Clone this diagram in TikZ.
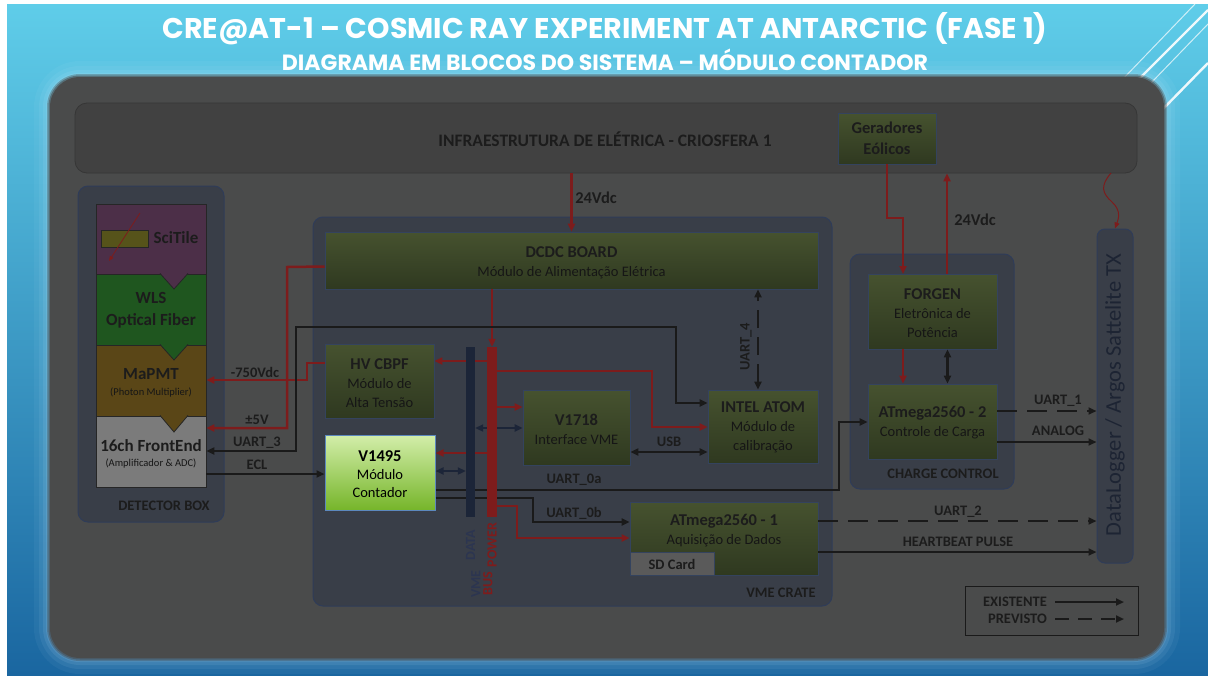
\documentclass[tikz,border=0pt]{standalone}
\usepackage{fontspec}
\setmainfont{Carlito}
\newfontfamily\titlefont{Poppins}
\usetikzlibrary{arrows.meta,fit}

\definecolor{bgtop}{HTML}{5FCDE9}
\definecolor{bgmid}{HTML}{3AA3D2}
\definecolor{bgbot}{HTML}{1A66A0}
\definecolor{glow}{HTML}{CFEFFF}
\definecolor{panel}{HTML}{4A4B4B}
\definecolor{infrafill}{HTML}{414141}
\definecolor{infrabord}{HTML}{363636}
\definecolor{cfill}{HTML}{393E48}
\definecolor{cbord}{HTML}{2F3C58}
\definecolor{gtop}{HTML}{46522F}
\definecolor{gbot}{HTML}{2F3920}
\definecolor{gbord}{HTML}{34435E}
\definecolor{brtop}{HTML}{D3EEAA}
\definecolor{brbot}{HTML}{76B52A}
\definecolor{brbord}{HTML}{5C88BE}
\definecolor{pwrred}{HTML}{7D1C1C}
\definecolor{sigblk}{HTML}{1A1A1A}
\definecolor{navy}{HTML}{1C2538}
\definecolor{txt}{HTML}{1C1C1C}
\definecolor{subtxt}{HTML}{161616}
\definecolor{scicol}{HTML}{4C2F48}
\definecolor{wlscol}{HTML}{1F561F}
\definecolor{pmtcol}{HTML}{5A4617}
\definecolor{fecol}{HTML}{7B7B7B}
\definecolor{tilecol}{HTML}{56531A}
\definecolor{secbord}{HTML}{262626}
\definecolor{sdcol}{HTML}{5A5A5A}
\definecolor{dltxt}{HTML}{1D2433}
\definecolor{vmetxt}{HTML}{2C3550}

\newcommand\boxtitle[1]{{\fontsize{16.5}{19}\selectfont\bfseries #1}}
\newcommand\boxline[1]{{\color{subtxt}\fontsize{14.5}{19}\selectfont #1}}

\tikzset{
  container/.style={draw=cbord, fill=cfill, line width=1pt, rounded corners=10pt, inner sep=0pt},
  infrabar/.style={draw=infrabord, fill=infrafill, line width=0.8pt, rounded corners=12pt, inner sep=0pt},
  gbox/.style={draw=gbord, line width=0.8pt, top color=gtop, bottom color=gbot, inner sep=0pt},
  brbox/.style={draw=brbord, line width=1pt, top color=brtop, bottom color=brbot, inner sep=0pt},
  boxtext/.style={align=center, text=txt, font=\fontsize{14.5}{19}\selectfont, inner sep=0pt},
  sect/.style={draw=secbord, line width=0.8pt, inner sep=0pt},
  lbl/.style={font=\fontsize{14.5}{17}\selectfont\bfseries, text=txt, inner sep=0pt},
  tip/.style={-{Triangle[length=8pt,width=7pt]}},
  tips/.style={{Triangle[length=8pt,width=7pt]}-{Triangle[length=8pt,width=7pt]}},
  pwr/.style={draw=pwrred, line width=2.5pt},
  sig/.style={draw=sigblk, line width=2.2pt},
  bus/.style={draw=navy, line width=2.2pt},
  planned/.style={draw=sigblk, line width=2.2pt, dash pattern=on 20pt off 10pt},
}

\begin{document}
\begin{tikzpicture}[x=1pt,y=-1pt]
\useasboundingbox (0,0) rectangle (1208,675);

% backdrop
\fill[white] (0,0) rectangle (1208,675);
\shade[top color=bgtop, middle color=bgmid, bottom color=bgbot] (7,4) rectangle (1208,675);
\draw[white, line width=1pt, opacity=.7] (1195,4) -- (1120,82);
\draw[white, line width=2.2pt, opacity=.9] (1208,10) -- (1136,82);
\draw[white, line width=1pt, opacity=.7] (1208,24) -- (1150,84);
\draw[white, line width=2.4pt, opacity=.9] (1208,63) -- (1160,112);

% soft halo and main panel
\foreach \d/\r/\op in {16/46/0.05, 11/41/0.07, 7/37/0.09, 4/34/0.11}{
  \fill[glow, opacity=\op, rounded corners=\r pt] (50-\d,77-\d) rectangle (1164+\d,658+\d);
}
\foreach \d/\r/\op in {3/33/0.35, 1.5/31.5/0.55}{
  \fill[panel, opacity=\op, rounded corners=\r pt] (50-\d,77-\d) rectangle (1164+\d,658+\d);
}
\fill[panel, rounded corners=30pt] (50,77) rectangle (1164,658);

% titles
\node[text=white, inner sep=0pt] (title) at (605,29) {\resizebox{885pt}{!}{\titlefont\bfseries CRE@AT-1 – COSMIC RAY EXPERIMENT AT ANTARCTIC (FASE 1)}};
\node[text=white, inner sep=0pt] (subtitle) at (605,60) {\resizebox{646pt}{!}{\titlefont\bfseries DIAGRAMA EM BLOCOS DO SISTEMA – MÓDULO CONTADOR}};

% infrastructure
\node[infrabar, fit={(75,103) (1137,173)}] (infra) {};
\node[lbl, font=\fontsize{17.5}{20}\selectfont\bfseries] (infratxt) at (605,139) {INFRAESTRUTURA DE ELÉTRICA - CRIOSFERA 1};
\node[gbox, fit={(838,113) (936,164)}] (gen) {};
\node[boxtext, font=\fontsize{16.5}{21}\selectfont\bfseries] (gentxt) at (887,138.5) {Geradores\\Eólicos};

% detector box
\node[container, fit={(78,186) (224,522)}] (detbox) {};
\node[lbl] (detlbl) at (164,506) {DETECTOR BOX};
\node[sect, fill=fecol, fit={(96,416) (206,487)}] (fe) {};
\node[sect, fill=pmtcol, fit={(96,345) (206,416)}] (pmt) {};
\filldraw[fill=pmtcol, draw=secbord, line width=0.8pt] (160,415.4) -- (174,432) -- (188,415.4);
\node[sect, fill=wlscol, fit={(96,274) (206,345)}] (wls) {};
\filldraw[fill=wlscol, draw=secbord, line width=0.8pt] (160,344.4) -- (174,360) -- (188,344.4);
\node[sect, fill=scicol, fit={(96,204) (206,274)}] (sci) {};
\filldraw[fill=scicol, draw=secbord, line width=0.8pt] (160,273.4) -- (174,289) -- (188,273.4);
\node[draw=secbord, fill=tilecol, line width=0.8pt, inner sep=0pt, fit={(101,230) (148,247)}] (tile) {};
\node[text=txt, font=\fontsize{17}{20}\selectfont\bfseries, inner sep=0pt] (scilbl) at (176,238) {SciTile};
\draw[pwrred, line width=0.8pt, -{Triangle[length=5pt,width=4pt]}] (140,213) -- (109,261);
\node[boxtext, font=\fontsize{17}{22}\selectfont\bfseries] (wlslbl) at (151,310) {WLS\\Optical Fiber};
\node[text=txt, font=\fontsize{17}{20}\selectfont\bfseries, inner sep=0pt] (pmtlbl) at (151,374) {MaPMT};
\node[text=subtxt, font=\fontsize{10.5}{12}\selectfont, inner sep=0pt] (pmtsub) at (151,392) {(Photon Multiplier)};
\node[text=txt, font=\fontsize{17}{20}\selectfont\bfseries, inner sep=0pt] (felbl) at (151,446) {16ch FrontEnd};
\node[text=subtxt, font=\fontsize{10.5}{12}\selectfont, inner sep=0pt] (fesub) at (151,463) {(Amplificador \& ADC)};

% VME crate
\node[container, fit={(313,217) (832,606)}] (crate) {};
\node[lbl] (cratelbl) at (781,593) {VME CRATE};
\node[gbox, fit={(325,232) (818,289)}] (dcdc) {};
\node[boxtext] (dcdctxt) at (571.5,263) {\boxtitle{DCDC BOARD}\\\boxline{Módulo de Alimentação Elétrica}};
\node[gbox, fit={(325,344) (434,418)}] (hv) {};
\node[boxtext] (hvtxt) at (379.5,383) {\boxtitle{HV CBPF}\\\boxline{Módulo de}\\\boxline{Alta Tensão}};
\node[brbox, fit={(325,435) (435,510)}] (v1495) {};
\node[boxtext, text=black, font=\fontsize{14.5}{18}\selectfont] (v1495txt) at (380,474) {{\fontsize{16.5}{18}\selectfont\bfseries V1495}\\Módulo\\Contador};
\node[gbox, fit={(523,390) (630,465)}] (v1718) {};
\node[boxtext] (v1718txt) at (576.5,429) {\boxtitle{V1718}\\\boxline{Interface VME}};
\node[gbox, fit={(708,390) (818,463)}] (intel) {};
\node[boxtext] (inteltxt) at (763,427.5) {\boxtitle{INTEL ATOM}\\\boxline{Módulo de}\\\boxline{calibração}};
\node[gbox, fit={(630,502) (818,575)}] (atm1) {};
\node[boxtext] (atm1txt) at (724,530.5) {\boxtitle{ATmega2560 - 1}\\\boxline{Aquisição de Dados}};
\node[draw=gbord, fill=sdcol, line width=0.8pt, inner sep=0pt, fit={(630,552) (714,575)}] (sd) {};
\node[lbl] (sdtxt) at (672,564) {SD Card};

% VME bus bars
\node[fill=navy, minimum width=9pt, minimum height=170pt, inner sep=0pt] (dbus) at (470.5,432) {};
\node[fill=pwrred, minimum width=10pt, minimum height=170pt, inner sep=0pt] (pbus) at (492,432) {};
\node[rotate=90, text=vmetxt, font=\fontsize{14}{14}\selectfont\bfseries, inner sep=0pt] (datalbl) at (470.5,545) {DATA};
\node[rotate=90, text=pwrred, font=\fontsize{14}{14}\selectfont\bfseries, inner sep=0pt] (pwrlbl) at (492,545) {POWER};
\node[rotate=90, font=\fontsize{14}{12}\selectfont\bfseries, align=center, inner sep=0pt] (buslbl) at (482,584) {\textcolor{vmetxt}{VME}\\\textcolor{pwrred}{BUS}};

% charge control
\node[container, fit={(850,254) (1014,489)}] (charge) {};
\node[lbl] (chargelbl) at (943,474) {CHARGE CONTROL};
\node[gbox, fit={(868,274) (997,349)}] (forgen) {};
\node[boxtext] (forgentxt) at (932.5,313) {\boxtitle{FORGEN}\\\boxline{Eletrônica de}\\\boxline{Potência}};
\node[gbox, fit={(868,384) (997,459)}] (atm2) {};
\node[boxtext] (atm2txt) at (932.5,423) {\boxtitle{ATmega2560 - 2}\\\boxline{Controle de Carga}};

% data logger
\node[container, rounded corners=8pt, fit={(1097,229) (1133,563)}] (dlog) {};
\node[rotate=90, text=dltxt, font=\fontsize{22.5}{24}\selectfont, inner sep=0pt] (dloglbl) at (1115,395) {DataLogger / Argos Sattelite TX};

% power connections
\draw[pwr, tip] (dcdc.north |- infra.south) -- (dcdc.north);
\node[lbl, font=\fontsize{16.5}{19}\selectfont\bfseries] (v24a) at (596,198) {24Vdc};
\draw[pwr, tip] (gen.south) -- (887,218) -- (903,218) -- (903,274);
\draw[pwr, tip] ([xshift=14.5pt]forgen.north) -- ([xshift=14.5pt]forgen.north |- infra.south);
\node[lbl, font=\fontsize{16.5}{19}\selectfont\bfseries] (v24b) at (975,220) {24Vdc};
\draw[pwr, tip] ([xshift=-29.5pt]forgen.south) -- ([xshift=-29.5pt]atm2.north);
\draw[sig, tips] ([xshift=15pt]forgen.south) -- ([xshift=15pt]atm2.north);
\draw[pwrred, line width=1pt, -{Triangle[length=6pt,width=5pt]}] (1111,173) .. controls (1100,186) and (1102,193) .. (1112,202) .. controls (1122,211) and (1118,220) .. (dlog.north);
\draw[pwr, tip] (pbus.north |- dcdc.south) -- (pbus.north);
\draw[pwr, tip] ([yshift=-6pt]dcdc.west) -- (287,267) -- (287,428) -- (fe.east |- 0,428);
\draw[pwr, tip] (hv.west |- 0,363) -- (307,363) -- (307,380) -- (pmt.east |- 0,380);
\draw[pwr, tip] (pbus.west |- 0,361) -- (hv.east |- 0,361);
\draw[pwr, tip] (pbus.east |- 0,371) -- (652,371) -- (652,427) -- (intel.west |- 0,427);
\draw[pwr, tip] (pbus.east |- 0,407) -- (v1718.west |- 0,407);
\draw[pwr, tip] (pbus.west |- 0,453) -- (v1495.east |- 0,453);
\draw[pwr, tip] (pbus.east |- 0,506) -- (517,506) -- (517,538) -- (atm1.west |- 0,538);
\node[lbl] (l750) at (255,372) {-750Vdc};
\node[lbl] (l5v) at (257,420) {±5V};

% data connections
\draw[bus, tips] (dbus.east |- 0,428) -- (v1718.west |- 0,428);
\draw[bus, tips] (dbus.west |- 0,471) -- (v1495.east |- 0,471);
\draw[sig, tips] (fe.east |- 0,451) -- (296,451) -- (296,327) -- (676,327) -- (676,403) -- (intel.west |- 0,403);
\node[lbl] (luart3) at (257,443) {UART\_3};
\draw[sig, tip] (fe.east |- 0,474) -- (v1495.west |- 0,474);
\node[lbl] (lecl) at (257,465) {ECL};
\draw[sig, tips] (v1718.east |- 0,452) -- (intel.west |- 0,452);
\node[lbl] (lusb) at (669,442) {USB};
\draw[planned, dash pattern=on 18pt off 9pt, tips] (intel.north -| 758,0) -- (dcdc.south -| 758,0);
\node[lbl, rotate=90] (luart4) at (746,347) {UART\_4};
\draw[sig, tip] (v1495.east |- 0,490) -- (839,490) -- (839,422) -- (atm2.west |- 0,422);
\node[lbl] (luart0a) at (574,480) {UART\_0a};
\draw[sig, tip] (v1495.east |- 0,498) -- (533,498) -- (533,522) -- (atm1.west |- 0,522);
\node[lbl] (luart0b) at (574,513) {UART\_0b};
\draw[planned, tip] (atm2.east |- 0,411) -- (dlog.west |- 0,411);
\node[lbl] (luart1) at (1058,401) {UART\_1};
\draw[sig, tip] (atm2.east |- 0,442) -- (dlog.west |- 0,442);
\node[lbl] (lanalog) at (1058,431) {ANALOG};
\draw[planned, tip] (atm1.east |- 0,521) -- (dlog.west |- 0,521);
\node[lbl] (luart2) at (958,512) {UART\_2};
\draw[sig, tip] (atm1.east |- 0,552) -- (dlog.west |- 0,552);
\node[lbl] (lheart) at (958,542) {HEARTBEAT PULSE};

% bus bars drawn again over the lines that cross them
\fill[navy] (dbus.north west) rectangle (dbus.south east);
\fill[pwrred] (pbus.north west) rectangle (pbus.south east);

% legend
\node[draw=sigblk, line width=1pt, inner sep=0pt, fit={(965,586) (1138,635)}] (legend) {};
\node[lbl, anchor=east] (lgex) at (1047,602) {EXISTENTE};
\node[lbl, anchor=east] (lgpl) at (1047,619) {PREVISTO};
\coordinate (lgexend) at (1124,602);
\coordinate (lgplend) at (1124,619);
\draw[sig, tip] ([xshift=8pt]lgex.east) -- (lgexend);
\draw[planned, dash pattern=on 14pt off 9pt, tip] ([xshift=8pt]lgpl.east) -- (lgplend);
\end{tikzpicture}
\end{document}
